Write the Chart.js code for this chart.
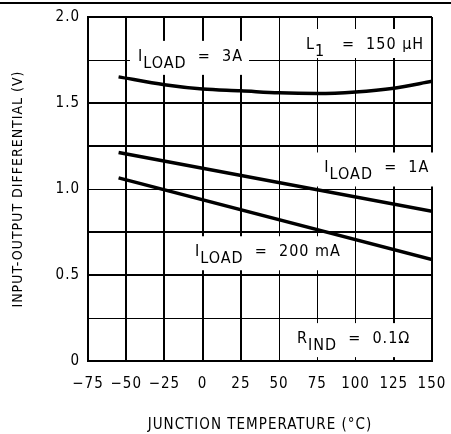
<!DOCTYPE html>
<html>
<head>
<meta charset="utf-8">
<script src="https://cdn.jsdelivr.net/npm/chart.js@4.4.0/dist/chart.umd.min.js"></script>
<style>
  html, body { margin: 0; padding: 0; background: #fff; }
  #wrap { width: 451px; height: 434px; }
</style>
</head>
<body>
<div id="wrap"><canvas id="chart"></canvas></div>
<script>
// temperature points (°C) and input-output differential (V) for each load
const temps3A = [-55, -25, 0, 25, 50, 75, 100, 125, 150];
const load3A = [1.652, 1.606, 1.581, 1.571, 1.559, 1.555, 1.564, 1.586, 1.626];
const temps1A = [-55, 150];
const load1A = [1.212, 0.871];
const temps200mA = [-55, 150];
const load200mA = [1.065, 0.590];

const xTicks = [-75, -50, -25, 0, 25, 50, 75, 100, 125, 150];
const yTickLabels = { 0: '0', 0.5: '0.5', 1: '1.0', 1.5: '1.5', 2: '2.0' };
const thickX = [-75, -50, -25, 0, 25, 125, 150];
const thickY = [0, 0.5, 0.75, 1.25, 1.5, 2];

const FONT = '"DejaVu Sans Condensed", "Liberation Sans Narrow", sans-serif';

// text labels on the plot: left/baseline anchor in data units, box bottom below baseline
const notes = [
    { x: -42.3, y: 1.745, below: 14, parts: [['I', 0], ['LOAD', 1], ['  =  3A', 0]] },
    { x: 67.6, y: 1.814, below: 9, parts: [['L', 0], ['1', 1], ['   =  150 µH', 0]] },
    { x: 79.6, y: 1.096, below: 14, parts: [['I', 0], ['LOAD', 1], ['  =  1A', 0]] },
    { x: -5, y: 0.609, below: 14, parts: [['I', 0], ['LOAD', 1], ['  =  200 mA', 0]] },
    { x: 61.7, y: 0.104, below: 14, parts: [['R', 0], ['IND', 1], ['  =  0.1Ω', 0]] }
];

const notesPlugin = {
    id: 'notes',
    beforeDraw(chart) {
        chart.ctx.letterSpacing = '1px';
    },
    beforeDatasetsDraw(chart) {
        const { ctx, scales: { x, y } } = chart;
        ctx.save();
        ctx.letterSpacing = '1px';
        ctx.textBaseline = 'alphabetic';
        ctx.textAlign = 'left';
        ctx.font = '16px ' + FONT;
        notes.forEach(n => {
            const px = x.getPixelForValue(n.x);
            const py = y.getPixelForValue(n.y);
            const w = n.parts.reduce((s, [t]) => s + ctx.measureText(t).width, 0);
            ctx.fillStyle = '#fff';
            ctx.fillRect(px - 8, py - 20, w + 14, 20 + n.below);
            ctx.fillStyle = '#000';
            let cx = px;
            n.parts.forEach(([t, sub]) => {
                ctx.fillText(t, cx, sub ? py + 7 : py);
                cx += ctx.measureText(t).width;
            });
        });
        ctx.restore();
    },
    afterDraw(chart) {
        const ctx = chart.ctx;
        ctx.save();
        ctx.fillStyle = '#000';
        ctx.fillRect(0, 2, chart.width, 2);
        ctx.restore();
    }
};

const toPoints = (xs, ys) => xs.map((v, i) => ({ x: v, y: ys[i] }));

new Chart(document.getElementById('chart'), {
    type: 'line',
    data: {
        datasets: [
            { data: toPoints(temps3A, load3A), cubicInterpolationMode: 'monotone' },
            { data: toPoints(temps1A, load1A) },
            { data: toPoints(temps200mA, load200mA) }
        ]
    },
    options: {
        responsive: true,
        maintainAspectRatio: false,
        animation: false,
        events: [],
        layout: { padding: { left: 0, top: 16, right: 19, bottom: 0 } },
        elements: {
            line: { borderColor: '#000', borderWidth: 3.5, borderCapStyle: 'butt' },
            point: { radius: 0 }
        },
        plugins: { legend: { display: false }, tooltip: { enabled: false } },
        scales: {
            x: {
                type: 'linear',
                min: -75,
                max: 150,
                afterBuildTicks: s => { s.ticks = xTicks.map(v => ({ value: v })); },
                afterFit: s => { s.height = 73; s.paddingRight = 16; s.paddingLeft = 0; },
                ticks: {
                    color: '#000',
                    padding: 14,
                    font: { family: FONT, size: 15 },
                    maxRotation: 0,
                    callback: v => String(v).replace('-', '\u2212')
                },
                grid: {
                    color: '#000',
                    drawTicks: false,
                    lineWidth: c => thickX.includes(c.tick.value) ? 2 : 1
                },
                border: { color: '#000', width: 2 },
                title: {
                    display: true,
                    text: 'JUNCTION TEMPERATURE (°C)',
                    color: '#000',
                    font: { family: FONT, size: 15 },
                    padding: { top: 12, bottom: 0 }
                }
            },
            y: {
                min: 0,
                max: 2,
                afterFit: s => { s.width = 88; },
                ticks: {
                    stepSize: 0.25,
                    color: '#000',
                    padding: 8,
                    font: { family: FONT, size: 15 },
                    callback: v => yTickLabels[v] !== undefined ? yTickLabels[v] : ''
                },
                grid: {
                    color: '#000',
                    drawTicks: false,
                    lineWidth: c => thickY.includes(c.tick.value) ? 2 : 1
                },
                border: { color: '#000', width: 2 },
                title: {
                    display: true,
                    text: 'INPUT-OUTPUT DIFFERENTIAL (V)',
                    color: '#000',
                    font: { family: FONT, size: 14 },
                    padding: { top: 10, bottom: 0 }
                }
            }
        }
    },
    plugins: [notesPlugin]
});
</script>
</body>
</html>
